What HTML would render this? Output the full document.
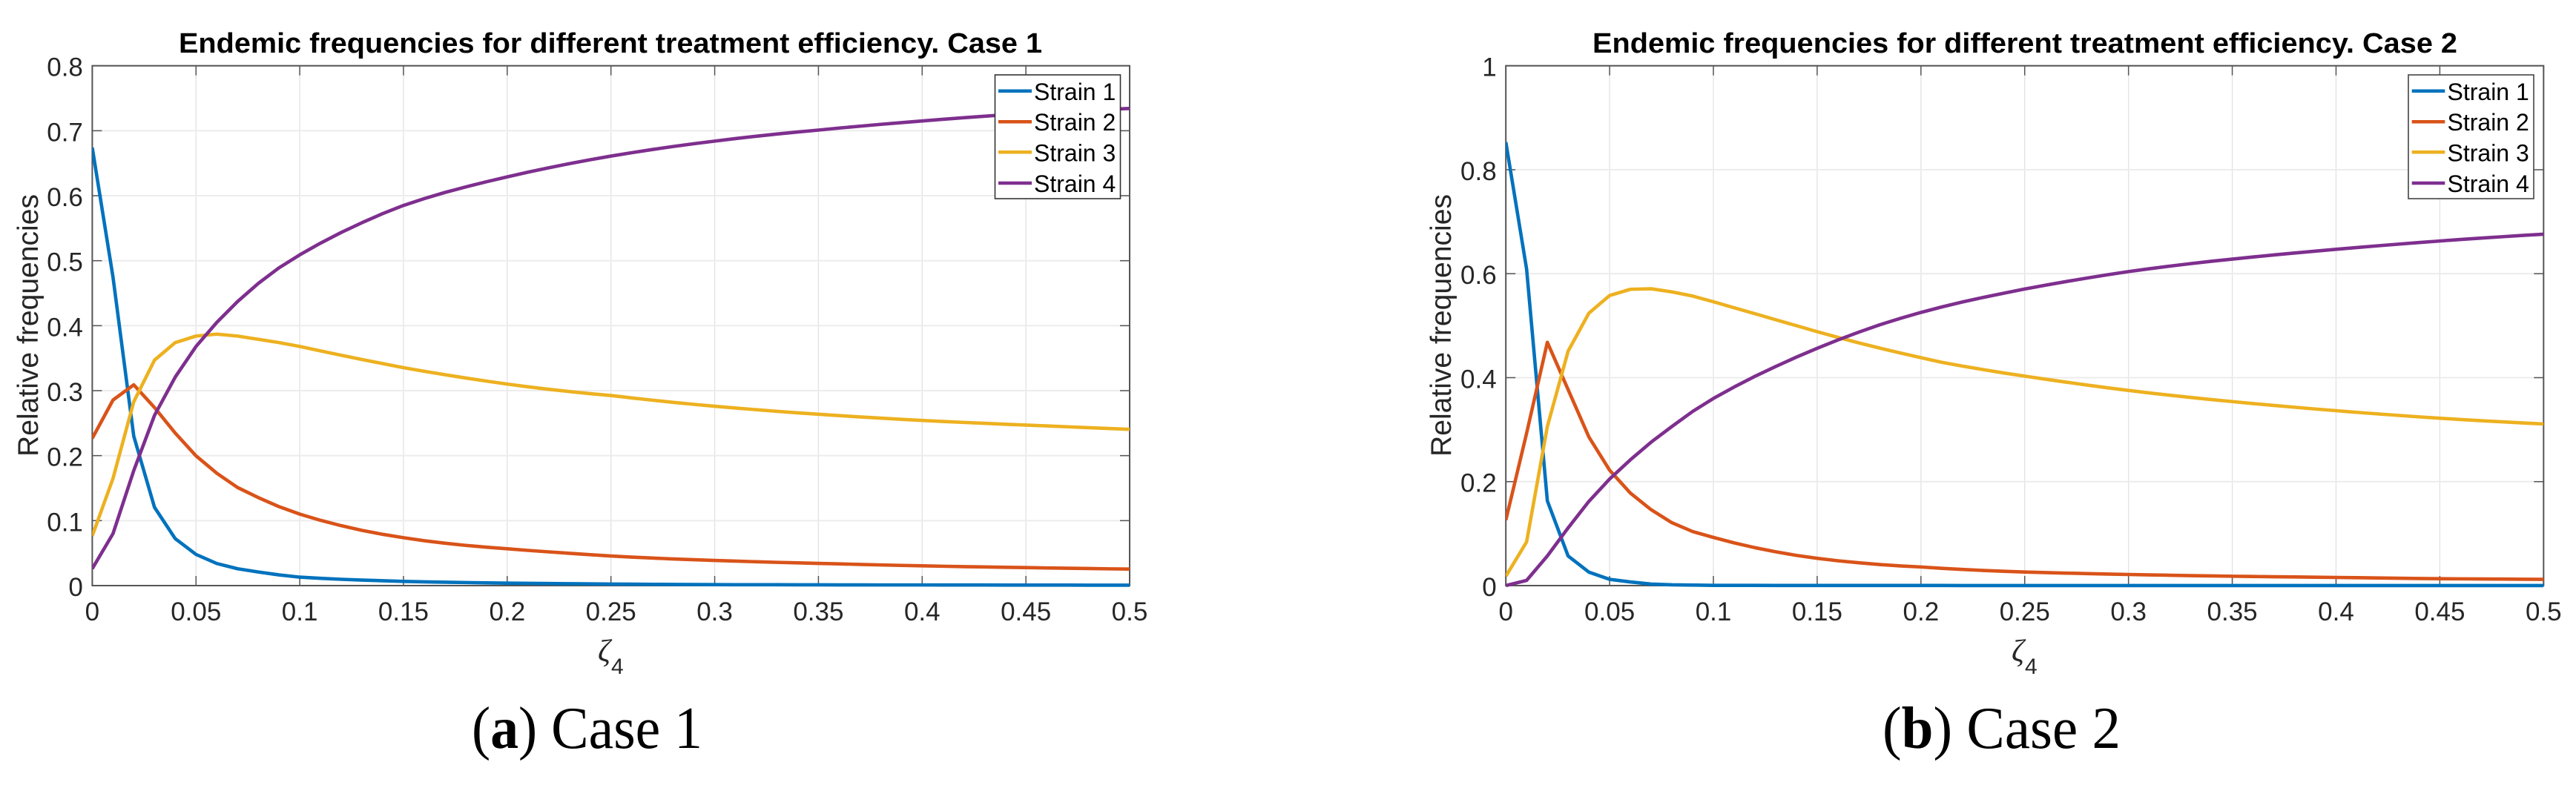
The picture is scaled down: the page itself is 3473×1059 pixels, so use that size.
<!DOCTYPE html>
<html lang="en">
<head>
<meta charset="utf-8">
<title>Endemic frequencies for different treatment efficiency</title>
<style>
html,body{margin:0;padding:0;background:#fff;}
svg{display:block;}
text{font-family:"Liberation Sans",sans-serif;}
.serif{font-family:"Liberation Serif",serif;}
.title{font-weight:bold;font-size:38px;fill:#000;}
.ylab{font-size:39px;fill:#262626;}
.leg{font-size:32px;fill:#000;}
.cap{font-size:80px;fill:#000;}
.tick{font-size:35px;fill:#262626;}
</style>
</head>
<body>
<svg id="root" xmlns="http://www.w3.org/2000/svg" width="3473" height="1059" viewBox="0 0 3473 1059">
<rect x="0" y="0" width="3473" height="1059" fill="#fff"/>

<g id="chart1"></g>
<g id="chart2"></g>

<text class="title" x="241" y="71" textLength="1164" lengthAdjust="spacingAndGlyphs">Endemic frequencies for different treatment efficiency. Case 1</text>
<text class="title" x="2147" y="71" textLength="1166" lengthAdjust="spacingAndGlyphs">Endemic frequencies for different treatment efficiency. Case 2</text>

<text class="ylab" transform="translate(51 616) rotate(-90)" textLength="354" lengthAdjust="spacingAndGlyphs">Relative frequencies</text>
<text class="ylab" transform="translate(1956 616) rotate(-90)" textLength="354" lengthAdjust="spacingAndGlyphs">Relative frequencies</text>

<g>
<text class="serif" x="806" y="892" font-size="42" font-style="italic" fill="#262626">ζ</text>
<text x="824" y="909" font-size="30" fill="#262626">4</text>
</g>
<g>
<text class="serif" x="2712" y="892" font-size="42" font-style="italic" fill="#262626">ζ</text>
<text x="2730" y="909" font-size="30" fill="#262626">4</text>
</g>

<g>
<rect x="1341.5" y="101" width="169" height="167" fill="#fff" stroke="#333" stroke-width="1.6"/>
<line x1="1346" x2="1391" y1="122.7" y2="122.7" stroke="#0072BD" stroke-width="4.5"/>
<text class="leg" x="1394" y="135">Strain 1</text>
<line x1="1346" x2="1391" y1="164.3" y2="164.3" stroke="#D95319" stroke-width="4.5"/>
<text class="leg" x="1394" y="176">Strain 2</text>
<line x1="1346" x2="1391" y1="205.3" y2="205.3" stroke="#EDB120" stroke-width="4.5"/>
<text class="leg" x="1394" y="217.5">Strain 3</text>
<line x1="1346" x2="1391" y1="247" y2="247" stroke="#7E2F8E" stroke-width="4.5"/>
<text class="leg" x="1394" y="259">Strain 4</text>
</g>

<g>
<rect x="3247" y="101" width="169" height="167" fill="#fff" stroke="#444" stroke-width="1.6"/>
<line x1="3251.7" x2="3296.3" y1="122.7" y2="122.7" stroke="#0072BD" stroke-width="4.5"/>
<text class="leg" x="3299.5" y="135">Strain 1</text>
<line x1="3251.7" x2="3296.3" y1="164.3" y2="164.3" stroke="#D95319" stroke-width="4.5"/>
<text class="leg" x="3299.5" y="176">Strain 2</text>
<line x1="3251.7" x2="3296.3" y1="205.3" y2="205.3" stroke="#EDB120" stroke-width="4.5"/>
<text class="leg" x="3299.5" y="217.5">Strain 3</text>
<line x1="3251.7" x2="3296.3" y1="247" y2="247" stroke="#7E2F8E" stroke-width="4.5"/>
<text class="leg" x="3299.5" y="259">Strain 4</text>
</g>

<text class="cap serif" x="636" y="1009" textLength="311" lengthAdjust="spacingAndGlyphs">(<tspan font-weight="bold">a</tspan>) Case 1</text>
<text class="cap serif" x="2538" y="1009" textLength="321" lengthAdjust="spacingAndGlyphs">(<tspan font-weight="bold">b</tspan>) Case 2</text>
</svg>

<script>
const zeta = [0,0.01,0.02,0.03,0.04,0.05,0.06,0.07,0.08,0.09,0.1,0.11,0.12,0.13,0.14,0.15,0.16,0.17,0.18,0.19,0.2,0.21,0.22,0.23,0.24,0.25,0.26,0.27,0.28,0.29,0.3,0.31,0.32,0.33,0.34,0.35,0.36,0.37,0.38,0.39,0.4,0.41,0.42,0.43,0.44,0.45,0.46,0.47,0.48,0.49,0.5];
const xTickValues = [0,0.05,0.1,0.15,0.2,0.25,0.3,0.35,0.4,0.45,0.5];
const xTickLabels = ["0","0.05","0.1","0.15","0.2","0.25","0.3","0.35","0.4","0.45","0.5"];
const yTickValuesCase1 = [0,0.1,0.2,0.3,0.4,0.5,0.6,0.7,0.8];
const yTickLabelsCase1 = ["0","0.1","0.2","0.3","0.4","0.5","0.6","0.7","0.8"];
const yTickValuesCase2 = [0,0.2,0.4,0.6,0.8,1];
const yTickLabelsCase2 = ["0","0.2","0.4","0.6","0.8","1"];
const seriesNames = ["strain-1","strain-2","strain-3","strain-4"];

const case1Strain1 = [0.674,0.4745,0.23,0.1204,0.0722,0.048,0.034,0.026,0.021,0.0165,0.013,0.0112,0.0097,0.0085,0.0075,0.0065,0.0058,0.0052,0.0047,0.0042,0.0038,0.0035,0.0032,0.0029,0.0026,0.0024,0.0022,0.002,0.0018,0.0016,0.0015,0.0014,0.0014,0.0013,0.0012,0.0012,0.0011,0.0011,0.001,0.001,0.001,0.0009,0.0009,0.0009,0.0008,0.0008,0.0008,0.0008,0.0007,0.0007,0.0007];
const case1Strain2 = [0.2266,0.2856,0.309,0.274,0.2346,0.1997,0.173,0.151,0.1355,0.1215,0.11,0.1005,0.0922,0.085,0.0789,0.0737,0.0691,0.0652,0.0619,0.0591,0.0567,0.0542,0.0519,0.0497,0.0476,0.0456,0.0439,0.0424,0.041,0.0398,0.0387,0.0377,0.0367,0.0358,0.035,0.0342,0.0334,0.0326,0.0318,0.0311,0.0304,0.0298,0.0292,0.0287,0.0282,0.0277,0.0272,0.0267,0.0263,0.0258,0.0254];
const case1Strain3 = [0.0765,0.165,0.283,0.347,0.374,0.384,0.387,0.384,0.379,0.374,0.368,0.3612,0.3545,0.3479,0.3416,0.3354,0.3298,0.3245,0.3195,0.3147,0.3101,0.3059,0.3021,0.2986,0.2954,0.2925,0.2888,0.2853,0.282,0.2789,0.276,0.2733,0.2707,0.2682,0.2659,0.2637,0.2616,0.2596,0.2577,0.2559,0.2542,0.2526,0.2511,0.2497,0.2483,0.247,0.2458,0.2444,0.2431,0.2418,0.2405];
const case1Strain4 = [0.026,0.08,0.177,0.262,0.321,0.368,0.405,0.437,0.465,0.489,0.509,0.527,0.5435,0.5585,0.5725,0.585,0.5955,0.605,0.6135,0.6215,0.629,0.6362,0.643,0.6494,0.6554,0.661,0.6662,0.6711,0.6757,0.68,0.684,0.6879,0.6915,0.6949,0.6981,0.701,0.7041,0.707,0.7098,0.7125,0.715,0.7176,0.72,0.7223,0.7245,0.7267,0.7285,0.7301,0.7316,0.733,0.7343];

const case2Strain1 = [0.853,0.609,0.163,0.057,0.026,0.012,0.007,0.003,0.0015,0.001,0.0005,0.0004,0.0004,0.0003,0.0003,0.0003,0.0002,0.0002,0.0002,0.0002,0.0002,0.0002,0.0001,0.0001,0.0001,0.0001,0.0001,0.0001,0.0001,0.0001,0.0001,0.0001,0.0001,0.0001,0.0001,0.0001,0.0001,0.0001,0.0001,0.0001,0.0001,0.0001,0.0001,0.0001,0.0001,0.0001,0.0001,0.0001,0.0001,0.0001,0.0001];
const case2Strain2 = [0.126,0.293,0.468,0.377,0.286,0.222,0.178,0.146,0.121,0.104,0.0927,0.0822,0.073,0.065,0.0581,0.0525,0.0478,0.0439,0.0406,0.0379,0.0358,0.0333,0.0311,0.0291,0.0275,0.0261,0.025,0.024,0.0231,0.0222,0.0214,0.0206,0.0199,0.0192,0.0186,0.018,0.0175,0.017,0.0166,0.0161,0.0157,0.0152,0.0147,0.0142,0.0137,0.0133,0.013,0.0127,0.0125,0.0122,0.012];
const case2Strain3 = [0.018,0.084,0.306,0.451,0.524,0.558,0.57,0.571,0.565,0.557,0.546,0.5345,0.523,0.5115,0.5,0.4885,0.4775,0.467,0.457,0.4475,0.4385,0.4295,0.4223,0.4155,0.409,0.403,0.397,0.3913,0.3858,0.3805,0.3755,0.3707,0.3662,0.3619,0.3578,0.354,0.3502,0.3466,0.3431,0.3397,0.3365,0.3333,0.3303,0.3274,0.3246,0.322,0.3195,0.3172,0.315,0.3129,0.311];
const case2Strain4 = [0,0.01,0.057,0.111,0.162,0.205,0.242,0.276,0.306,0.335,0.36,0.382,0.4025,0.4215,0.4395,0.4565,0.4725,0.4875,0.5015,0.514,0.5255,0.536,0.5456,0.5544,0.5626,0.5705,0.5779,0.5849,0.5916,0.598,0.604,0.6095,0.6146,0.6194,0.6239,0.628,0.6321,0.636,0.6398,0.6434,0.6469,0.6503,0.6536,0.6568,0.6599,0.6629,0.6658,0.6685,0.6711,0.6736,0.676];

const SVGNS = 'http://www.w3.org/2000/svg';
const colors = ['#0072BD','#D95319','#EDB120','#7E2F8E'];

function make(parent, tag, attrs) {
  const el = document.createElementNS(SVGNS, tag);
  for (const k in attrs) el.setAttribute(k, attrs[k]);
  parent.appendChild(el);
  return el;
}

function drawChart(root, id, box, xMax, yMax, yTicks, yLabels, series) {
  const sx = function (v) { return box.left + (v / xMax) * (box.right - box.left); };
  const sy = function (v) { return box.bottom - (v / yMax) * (box.bottom - box.top); };

  const defs = make(root, 'defs', {});
  const clip = make(defs, 'clipPath', { id: 'clip' + id });
  make(clip, 'rect', { x: box.left, y: box.top, width: box.right - box.left, height: box.bottom - box.top + 4 });

  xTickValues.forEach(function (v) {
    const g = make(root, 'line', { x1: sx(v), x2: sx(v), y1: box.top, y2: box.bottom, stroke: '#e2e2e2', 'stroke-width': 1.3 });
    
    
  });
  yTicks.forEach(function (v) {
    const g = make(root, 'line', { x1: box.left, x2: box.right, y1: sy(v), y2: sy(v), stroke: '#ececec', 'stroke-width': 2 });
    
    
  });

  xTickValues.forEach(function (v, i) {
    [[box.bottom, box.bottom - 13], [box.top, box.top + 13]].forEach(function (p) {
      const t = make(root, 'line', { x1: sx(v), x2: sx(v), y1: p[0], y2: p[1], stroke: '#555', 'stroke-width': 1.5 });
      
      
    });
    const lab = make(root, 'text', { x: sx(v), y: box.bottom + 47, 'text-anchor': 'middle', 'class': 'tick' });
    lab.textContent = xTickLabels[i];
    
    
  });
  yTicks.forEach(function (v, i) {
    [[box.left, box.left + 13], [box.right, box.right - 13]].forEach(function (p) {
      const t = make(root, 'line', { x1: p[0], x2: p[1], y1: sy(v), y2: sy(v), stroke: '#555', 'stroke-width': 1.5 });
      
      
    });
    const lab = make(root, 'text', { x: box.left - 12.5, y: sy(v) + 14, 'text-anchor': 'end', 'class': 'tick' });
    lab.textContent = yLabels[i];
    
    
  });

  const frame = make(root, 'rect', { x: box.left, y: box.top, width: box.right - box.left, height: box.bottom - box.top, fill: 'none', stroke: '#555', 'stroke-width': 2 });
  
  

  series.forEach(function (vals, i) {
    const pts = vals.map(function (v, j) { return sx(zeta[j]).toFixed(2) + ',' + sy(v).toFixed(2); }).join(' ');
    const line = make(root, 'polyline', { points: pts, fill: 'none', stroke: colors[i], 'stroke-width': 4.6, 'stroke-linejoin': 'round', 'clip-path': 'url(#clip' + id + ')' });
    
    
  });
}

drawChart(document.getElementById('chart1'), '1',
  { left: 124.4, right: 1523, top: 88.7, bottom: 790 },
  0.5, 0.8, yTickValuesCase1, yTickLabelsCase1,
  [case1Strain1, case1Strain2, case1Strain3, case1Strain4]);

drawChart(document.getElementById('chart2'), '2',
  { left: 2030.2, right: 3429.3, top: 88.7, bottom: 790 },
  0.5, 1, yTickValuesCase2, yTickLabelsCase2,
  [case2Strain1, case2Strain2, case2Strain3, case2Strain4]);
</script>
</body>
</html>
